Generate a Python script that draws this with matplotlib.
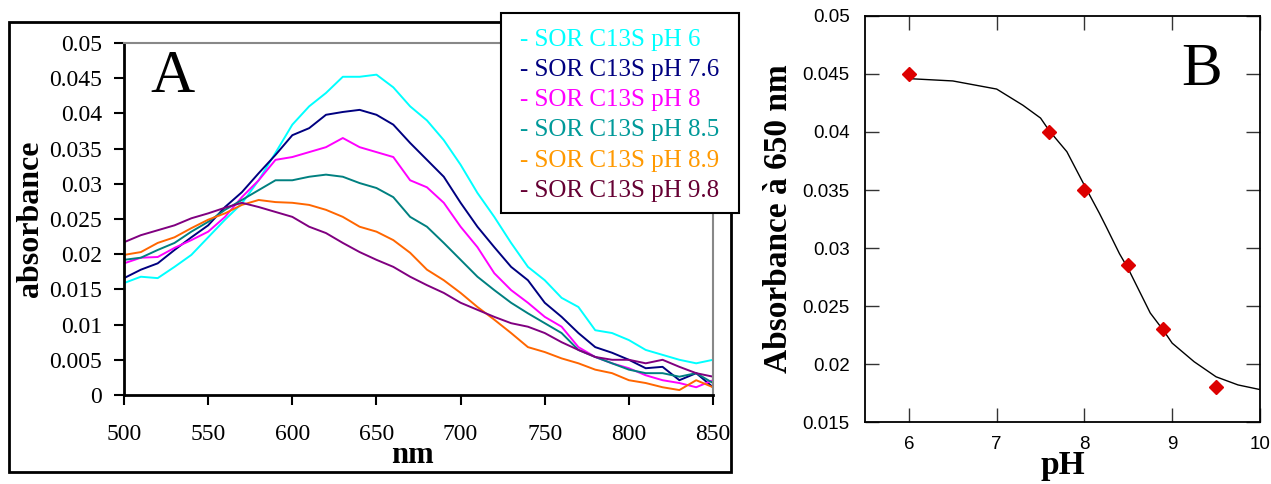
import numpy as np
import matplotlib
matplotlib.use("Agg")
import matplotlib.pyplot as plt
from matplotlib.patches import Rectangle

# panel A: spectra, absorbance read every 10 nm
wavelength = np.arange(500, 851, 10)
abs_ph6 = [0.0159, 0.0168, 0.0166, 0.0182, 0.0199, 0.0224, 0.0249, 0.0272, 0.0305, 0.0344,
           0.0384, 0.0410, 0.0429, 0.0452, 0.0452, 0.0455, 0.0437, 0.0410, 0.0390, 0.0362,
           0.0327, 0.0287, 0.0253, 0.0216, 0.0182, 0.0163, 0.0138, 0.0125, 0.0092, 0.0088,
           0.0078, 0.0064, 0.0057, 0.0050, 0.0045, 0.0050]
abs_ph76 = [0.0166, 0.0178, 0.0187, 0.0206, 0.0224, 0.0241, 0.0267, 0.0288, 0.0315, 0.0341,
            0.0369, 0.0379, 0.0398, 0.0402, 0.0405, 0.0398, 0.0384, 0.0358, 0.0334, 0.0310,
            0.0273, 0.0239, 0.0210, 0.0182, 0.0163, 0.0131, 0.0111, 0.0088, 0.0068, 0.0060,
            0.0050, 0.0038, 0.0040, 0.0021, 0.0031, 0.0011]
abs_ph8 = [0.0187, 0.0195, 0.0196, 0.0209, 0.0220, 0.0232, 0.0253, 0.0281, 0.0305, 0.0334,
           0.0338, 0.0345, 0.0352, 0.0365, 0.0352, 0.0345, 0.0338, 0.0305, 0.0295, 0.0273,
           0.0239, 0.0210, 0.0173, 0.0149, 0.0131, 0.0111, 0.0097, 0.0068, 0.0054, 0.0045,
           0.0038, 0.0028, 0.0021, 0.0017, 0.0011, 0.0021]
abs_ph85 = [0.0192, 0.0195, 0.0206, 0.0216, 0.0232, 0.0246, 0.0263, 0.0277, 0.0291, 0.0305,
            0.0305, 0.0310, 0.0313, 0.0310, 0.0301, 0.0294, 0.0281, 0.0253, 0.0239, 0.0216,
            0.0192, 0.0168, 0.0149, 0.0131, 0.0116, 0.0102, 0.0088, 0.0064, 0.0054, 0.0045,
            0.0036, 0.0031, 0.0031, 0.0026, 0.0031, 0.0017]
abs_ph89 = [0.0199, 0.0203, 0.0216, 0.0224, 0.0237, 0.0249, 0.0258, 0.0270, 0.0277, 0.0274,
            0.0273, 0.0270, 0.0263, 0.0253, 0.0239, 0.0232, 0.0220, 0.0202, 0.0178, 0.0163,
            0.0145, 0.0125, 0.0107, 0.0088, 0.0068, 0.0061, 0.0052, 0.0045, 0.0036, 0.0031,
            0.0021, 0.0017, 0.0011, 0.0007, 0.0021, 0.0011]
abs_ph98 = [0.0217, 0.0227, 0.0234, 0.0241, 0.0251, 0.0258, 0.0266, 0.0273, 0.0267, 0.0260,
            0.0253, 0.0239, 0.0230, 0.0216, 0.0203, 0.0192, 0.0182, 0.0168, 0.0156, 0.0145,
            0.0131, 0.0121, 0.0111, 0.0102, 0.0097, 0.0088, 0.0075, 0.0064, 0.0054, 0.0050,
            0.0050, 0.0045, 0.0050, 0.0040, 0.0031, 0.0026]
labels = ["- SOR C13S pH 6", "- SOR C13S pH 7.6", "- SOR C13S pH 8",
          "- SOR C13S pH 8.5", "- SOR C13S pH 8.9", "- SOR C13S pH 9.8"]
line_colors = ["#00FFFF", "#000080", "#FF00FF", "#008080", "#FF6600", "#800080"]
text_colors = ["#00FFFF", "#000080", "#FF00FF", "#009999", "#FF9900", "#660033"]

# panel B: absorbance at 650 nm vs pH, and the fitted curve
ph_pts = [6, 7.6, 8, 8.5, 8.9, 9.5]
a650_pts = [0.045, 0.040, 0.035, 0.0285, 0.023, 0.018]
fit_ph = [6.0, 6.5, 7.0, 7.3, 7.5, 7.6, 7.8, 8.0, 8.17, 8.25, 8.4, 8.5, 8.75, 8.9, 9.0,
          9.25, 9.5, 9.75, 10.0]
fit_abs = [0.0446, 0.0444, 0.0437, 0.0423, 0.0412, 0.0401, 0.0383, 0.0354, 0.0330, 0.0318,
           0.0295, 0.0282, 0.0244, 0.0229, 0.0218, 0.0202, 0.0189, 0.0182, 0.0178]

serif = ["Liberation Serif", "DejaVu Serif"]
sans = ["Liberation Sans", "DejaVu Sans"]

fig = plt.figure(figsize=(12.71, 4.84), dpi=100)

# ---- panel A
axA = fig.add_axes([0.0976, 0.1839, 0.4634, 0.7273])
series = [abs_ph6, abs_ph76, abs_ph8, abs_ph85, abs_ph89, abs_ph98]
for vals, c in zip(series, line_colors):
    axA.plot(wavelength, vals, color=c, lw=1.4)
axA.set_xlim(500, 850)
axA.set_ylim(0, 0.05)
axA.set_xticks(np.arange(500, 851, 50))
axA.set_yticks(np.arange(0, 0.0501, 0.005))
axA.set_yticklabels(["0", "0.005", "0.01", "0.015", "0.02", "0.025", "0.03",
                     "0.035", "0.04", "0.045", "0.05"])
for lab in axA.get_xticklabels() + axA.get_yticklabels():
    lab.set_family(serif)
    lab.set_fontsize(17)
axA.tick_params(direction="out", length=7, width=1.5)
axA.tick_params(axis="x", pad=14)
axA.tick_params(axis="y", pad=9)
axA.spines["left"].set_linewidth(2)
axA.spines["bottom"].set_linewidth(2)
axA.spines["top"].set_color("#888888")
axA.spines["right"].set_color("#888888")
axA.spines["top"].set_linewidth(1.5)
axA.spines["right"].set_linewidth(1.5)
axA.set_xlabel("nm", family=serif, fontsize=22, fontweight="bold")
axA.xaxis.set_label_coords(0.49, -0.13)
axA.set_ylabel("absorbance", family=serif, fontsize=23, fontweight="bold")
axA.yaxis.set_label_coords(-0.135, 0.5)
axA.text(0.045, 0.86, "A", transform=axA.transAxes, family=serif, fontsize=44)

# outer frame of panel A and the legend box
fig.patches.append(Rectangle((0.0071, 0.0248), 0.568, 0.9297, transform=fig.transFigure,
                             fill=False, lw=2, ec="black"))
fig.patches.append(Rectangle((0.3942, 0.56), 0.1872, 0.4131, transform=fig.transFigure,
                             fill=True, fc="white", lw=1.5, ec="black", zorder=5))
for i, (lab, c) in enumerate(zip(labels, text_colors)):
    fig.text(0.409, 0.917 - i * 0.0622, lab, color=c, family=serif, fontsize=18,
             va="center", zorder=6)

# ---- panel B
axB = fig.add_axes([0.6806, 0.128, 0.3107, 0.839])
axB.plot(fit_ph, fit_abs, color="black", lw=1)
axB.plot(ph_pts, a650_pts, "D", color="#DD0000", ms=7, mec="#DD0000")
axB.set_xlim(5.5, 10)
axB.set_ylim(0.015, 0.05)
axB.set_xticks([6, 7, 8, 9, 10])
axB.set_yticks([0.015, 0.02, 0.025, 0.03, 0.035, 0.04, 0.045, 0.05])
axB.set_yticklabels(["0.015", "0.02", "0.025", "0.03", "0.035", "0.04", "0.045", "0.05"])
for lab in axB.get_xticklabels() + axB.get_yticklabels():
    lab.set_family(sans)
    lab.set_fontsize(13.5)
axB.tick_params(direction="in", length=10, width=1, color="#333333",
                top=True, right=True)
axB.tick_params(axis="y", pad=11)
axB.tick_params(axis="x", pad=10)
for s in axB.spines.values():
    s.set_linewidth(1.3)
axB.set_xlabel("pH", family=serif, fontsize=24, fontweight="bold", labelpad=-2)
axB.set_ylabel("Absorbance à 650 nm", family=serif, fontsize=24, fontweight="bold",
               labelpad=6)
axB.text(0.8, 0.83, "B", transform=axB.transAxes, family=serif, fontsize=44)

fig.savefig("out.png", dpi=100)
